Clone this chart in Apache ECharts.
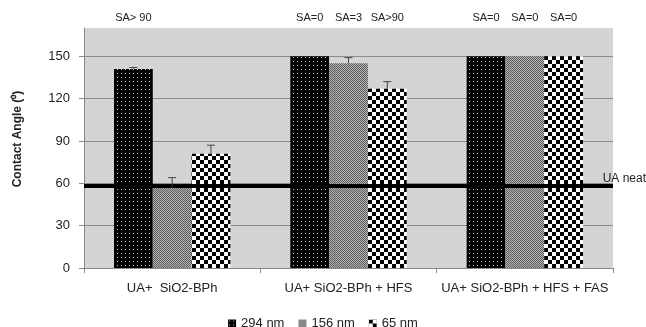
<!DOCTYPE html>
<html>
<head>
<meta charset="utf-8">
<script src="https://cdn.jsdelivr.net/npm/echarts@6/dist/echarts.min.js"></script>
<style>html,body{margin:0;padding:0;background:#fff}#c{width:646px;height:327px}</style>
</head>
<body>
<div id="c"></div>
<script>
const categories = ['UA+  SiO2-BPh', 'UA+ SiO2-BPh + HFS', 'UA+ SiO2-BPh + HFS + FAS'];
const seriesNames = ['294 nm', '156 nm', '65 nm'];
const v294 = [141, 150, 150];
const v156 = [57, 145, 150];
const v65 = [81, 127, 150];
const e294 = [1, 0, 0];
const e156 = [7, 4, 0];
const e65 = [6, 5, 0];
const sa294 = ['SA> 90', 'SA=0', 'SA=0'];
const sa156 = ['', 'SA=3', 'SA=0'];
const sa65 = ['', 'SA>90', 'SA=0'];
const uaNeat = 58;
const yTicks = [0, 30, 60, 90, 120, 150];
const saLevel = 177;

function pattern(kind) {
  const c = document.createElement('canvas');
  const ctx = c.getContext('2d');
  if (kind === 'dots') {
    c.width = 4; c.height = 4;
    ctx.fillStyle = '#000'; ctx.fillRect(0, 0, 4, 4);
    ctx.fillStyle = '#c8c8c8'; ctx.fillRect(1, 1, 1, 1);
  } else if (kind === 'gray') {
    c.width = 2; c.height = 2;
    ctx.fillStyle = '#b4b4b4'; ctx.fillRect(0, 0, 2, 2);
    ctx.fillStyle = '#5c5c5c'; ctx.fillRect(0, 0, 1, 1); ctx.fillRect(1, 1, 1, 1);
  } else {
    c.width = 8; c.height = 8;
    ctx.fillStyle = '#fff'; ctx.fillRect(0, 0, 8, 8);
    ctx.fillStyle = '#000'; ctx.fillRect(0, 0, 4, 4); ctx.fillRect(4, 4, 4, 4);
  }
  return { image: c, repeat: 'repeat' };
}
const fills = [pattern('dots'), pattern('gray'), pattern('check')];
const vals = [v294, v156, v65];
const errs = [e294, e156, e65];
const sas = [sa294, sa156, sa65];
const gapFrac = 0.34;
const FONT = 'Liberation Sans';

function makeRender(k) {
  return function (params, api) {
    const i = api.value(0);
    const v = api.value(1);
    const e = api.value(2);
    const band = api.size([1, 0])[0];
    const barW = band * (1 - gapFrac) / 3;
    const dx = (k - 1) * barW;
    const children = [];
    const top = api.coord([i, v]);
    if (e > 0) {
      const hi = api.coord([i, v + e]);
      const x = top[0] + dx;
      children.push({ type: 'line', shape: { x1: x, y1: top[1], x2: x, y2: hi[1] }, style: { stroke: '#444', lineWidth: 1 } });
      children.push({ type: 'line', shape: { x1: x - 4, y1: hi[1], x2: x + 4, y2: hi[1] }, style: { stroke: '#444', lineWidth: 1 } });
    }
    const lab = sas[k][i];
    if (lab) {
      const p = api.coord([i, saLevel]);
      children.push({ type: 'text', x: p[0] + dx, y: p[1], style: { text: lab, fill: '#222', font: '11px "' + FONT + '"', align: 'center', verticalAlign: 'middle' } });
    }
    return { type: 'group', children: children };
  };
}

const series = [];
for (let k = 0; k < 3; k++) {
  series.push({
    name: seriesNames[k], type: 'bar', data: vals[k],
    barGap: '0%', barCategoryGap: (gapFrac * 100) + '%',
    itemStyle: { color: fills[k] },
    emphasis: { disabled: true },
    markLine: k === 2 ? {
      silent: true, symbol: 'none', z: 10,
      lineStyle: { color: '#000', width: 4, type: 'solid' },
      label: { show: true, position: 'insideEndTop', formatter: 'UA neat', color: '#222', fontSize: 12, fontFamily: FONT, distance: [-33, 1] },
      data: [{ yAxis: uaNeat }]
    } : undefined
  });
}
for (let k = 0; k < 3; k++) {
  series.push({
    type: 'custom', name: 'err' + k, renderItem: makeRender(k), z: 12, silent: true,
    data: categories.map((c, i) => [i, vals[k][i], errs[k][i]]),
    encode: { x: 0, y: 1 }
  });
}

const chart = echarts.init(document.getElementById('c'), null, { renderer: 'canvas' });
chart.setOption({
  animation: false,
  backgroundColor: '#fff',
  grid: { left: 84, right: 33, top: 28, bottom: 59, show: true, backgroundColor: '#d4d4d4', borderWidth: 0 },
  legend: {
    data: seriesNames, top: 312, left: 'center', icon: 'rect', itemWidth: 8, itemHeight: 8, itemGap: 14,
    textStyle: { fontSize: 13, fontFamily: FONT, color: '#222' }
  },
  xAxis: {
    type: 'category', data: categories,
    axisLine: { show: true, lineStyle: { color: '#888', width: 1 } },
    axisTick: { show: true, alignWithLabel: false, length: 5, lineStyle: { color: '#888' } },
    axisLabel: { fontSize: 13, fontFamily: FONT, color: '#222', margin: 14, interval: 0 },
    splitLine: { show: false }
  },
  yAxis: {
    type: 'value', min: 0, max: 170, interval: 30,
    axisLine: { show: true, lineStyle: { color: '#888', width: 1 } },
    axisTick: { show: true, length: 5, lineStyle: { color: '#888' } },
    axisLabel: { fontSize: 13, fontFamily: FONT, color: '#222', margin: 14,
      formatter: v => (yTicks.indexOf(v) >= 0 ? String(v) : ''), showMaxLabel: false },
    splitLine: { show: true, showMaxLine: false, lineStyle: { color: '#8c8c8c', width: 1 } }
  },
  graphic: [{
    type: 'text', x: 18, y: 139, rotation: Math.PI / 2,
    style: { text: 'Contact Angle (\u2070)', font: 'bold 12px "' + FONT + '"', fill: '#222', align: 'center', verticalAlign: 'middle' }
  }],
  series: series
});
</script>
</body>
</html>
